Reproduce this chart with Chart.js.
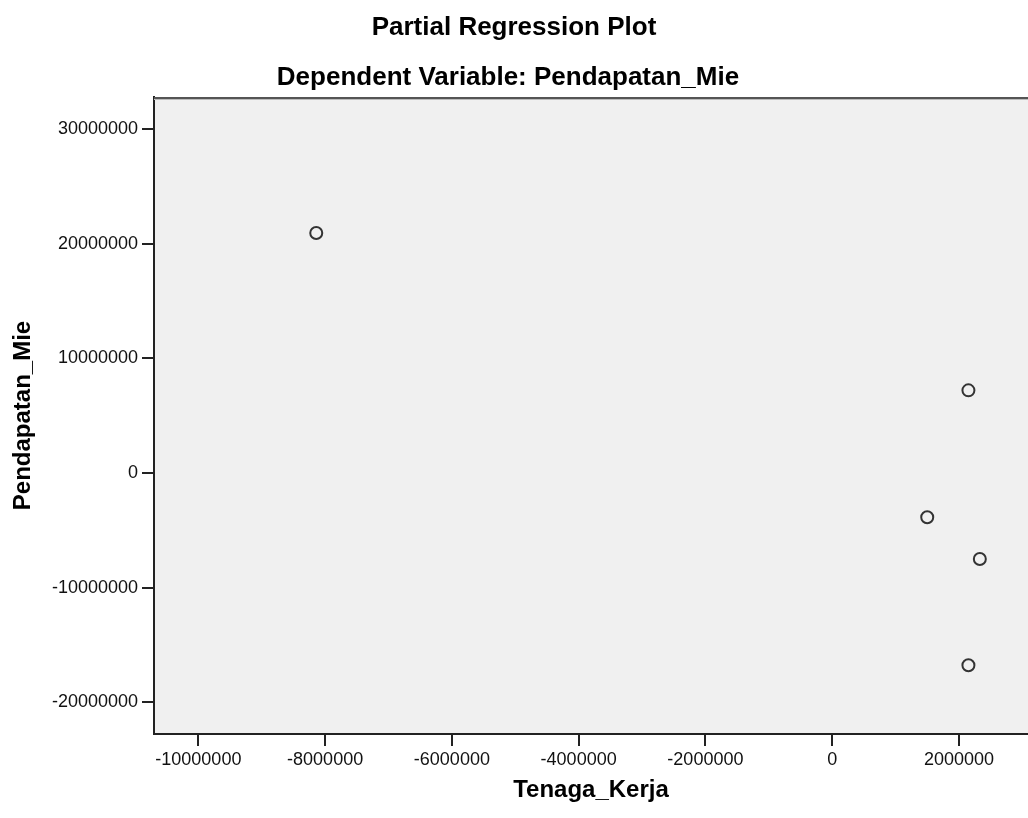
<!DOCTYPE html>
<html>
<head>
<meta charset="utf-8">
<script src="https://cdn.jsdelivr.net/npm/chart.js@4.4.1/dist/chart.umd.min.js"></script>
<style>
html,body{margin:0;padding:0;background:#fff;}
#c{display:block;}
</style>
</head>
<body>
<canvas id="c" width="1028" height="818"></canvas>
<script>
const titleLines = ['Partial Regression Plot', 'Dependent Variable: Pendapatan_Mie'];
const xTitle = 'Tenaga_Kerja';
const yTitle = 'Pendapatan_Mie';
const xValues = [-8140000, 2150000, 1500000, 2330000, 2150000];
const yValues = [20950000, 7220000, -3860000, -7500000, -16770000];
const xTicks = [-10000000, -8000000, -6000000, -4000000, -2000000, 0, 2000000];
const yTicks = [-20000000, -10000000, 0, 10000000, 20000000, 30000000];
const xRange = [-10700000, 3090000];
const yRange = [-22770000, 32820000];

const FONT = "'Liberation Sans', Arial, sans-serif";

const bgPlugin = {
  id: 'bgPlugin',
  beforeDraw(chart) {
    const {ctx, chartArea: a} = chart;
    ctx.save();
    ctx.fillStyle = '#f0f0f0';
    ctx.fillRect(a.left, a.top, a.right - a.left, a.bottom - a.top);
    ctx.restore();
  },
  afterDraw(chart) {
    const {ctx, chartArea: a} = chart;
    ctx.save();
    ctx.strokeStyle = '#555';
    ctx.lineWidth = 2;
    ctx.beginPath();
    ctx.moveTo(a.left, a.top + 1);
    ctx.lineTo(a.right, a.top + 1);
    ctx.stroke();
    ctx.strokeStyle = '#bbb';
    ctx.lineWidth = 1;
    ctx.beginPath();
    ctx.moveTo(a.left, a.top + 2.5);
    ctx.lineTo(a.right, a.top + 2.5);
    ctx.stroke();
    ctx.fillStyle = '#000';
    ctx.font = 'bold 26px ' + FONT;
    ctx.textAlign = 'center';
    ctx.textBaseline = 'alphabetic';
    ctx.fillText(titleLines[0], 514, 35);
    ctx.fillText(titleLines[1], 508, 85);
    ctx.restore();
  }
};

new Chart(document.getElementById('c'), {
  type: 'scatter',
  data: {
    datasets: [{
      data: xValues.map((x, i) => ({x: x, y: yValues[i]})),
      pointRadius: 6,
      pointHoverRadius: 6,
      pointBorderWidth: 2,
      pointBorderColor: '#333',
      pointBackgroundColor: 'rgba(0,0,0,0)'
    }]
  },
  options: {
    responsive: false,
    animation: false,
    devicePixelRatio: 1,
    layout: {autoPadding: false, padding: {top: 97, left: 0, right: 0, bottom: 0}},
    plugins: {legend: {display: false}, tooltip: {enabled: false}, title: {display: false}},
    scales: {
      x: {
        type: 'linear',
        min: xRange[0], max: xRange[1],
        afterBuildTicks(s) { s.ticks = xTicks.map(v => ({value: v})); },
        afterFit(s) { s.height = 84; s.paddingLeft = 0; s.paddingRight = 0; },
        grid: {drawOnChartArea: false, drawTicks: true, tickLength: 12, color: '#222', lineWidth: 2},
        border: {display: true, color: '#222', width: 2},
        ticks: {
          callback: v => String(v),
          font: {family: FONT, size: 18},
          color: '#111',
          padding: 3,
          maxRotation: 0,
          autoSkip: false
        },
        title: {
          display: true,
          text: xTitle,
          font: {family: FONT, size: 24, weight: 'bold'},
          color: '#000',
          padding: {top: 4, bottom: 13}
        }
      },
      y: {
        type: 'linear',
        min: yRange[0], max: yRange[1],
        afterBuildTicks(s) { s.ticks = yTicks.map(v => ({value: v})); },
        afterFit(s) { s.width = 154; s.paddingTop = 0; s.paddingBottom = 0; },
        grid: {drawOnChartArea: false, drawTicks: true, tickLength: 12, color: '#222', lineWidth: 2},
        border: {display: true, color: '#222', width: 2},
        ticks: {
          callback: v => String(v),
          font: {family: FONT, size: 18},
          color: '#111',
          padding: 4,
          autoSkip: false
        },
        title: {
          display: true,
          text: yTitle,
          font: {family: FONT, size: 24, weight: 'bold'},
          color: '#000',
          padding: {top: 9, bottom: 4}
        }
      }
    }
  },
  plugins: [bgPlugin]
});
</script>
</body>
</html>
